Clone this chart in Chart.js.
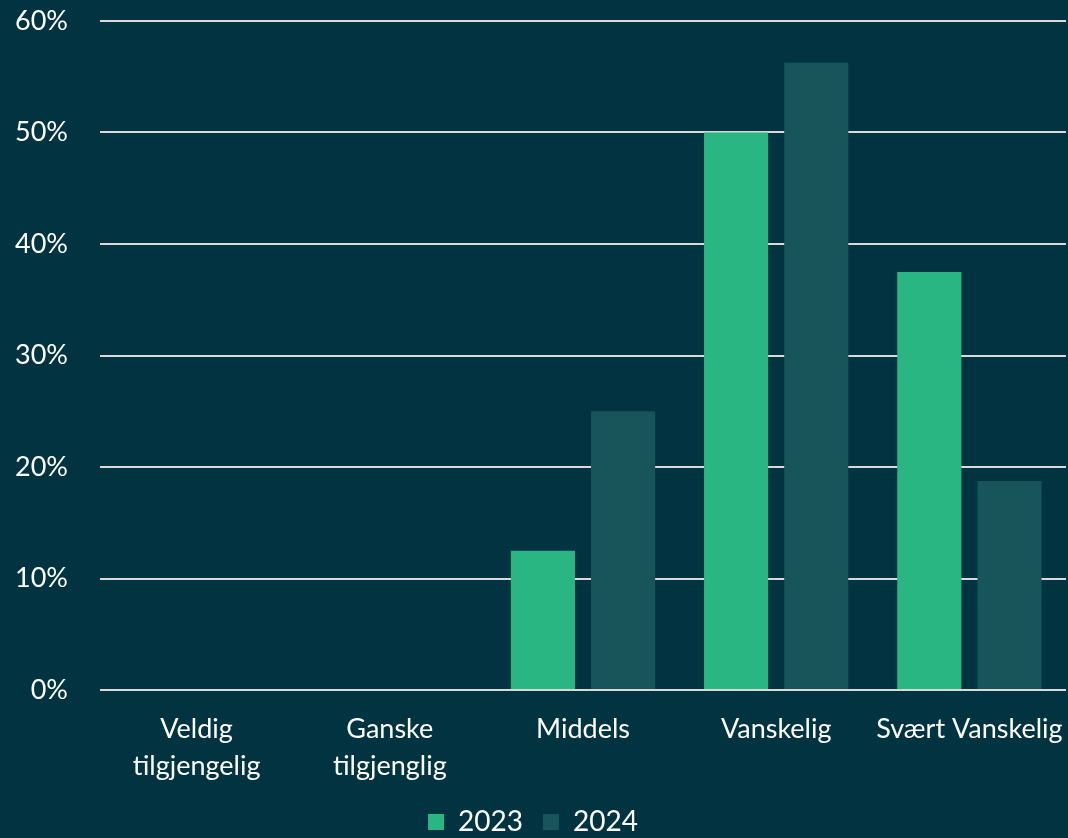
<!DOCTYPE html>
<html>
<head>
<meta charset="utf-8">
<script src="https://cdn.jsdelivr.net/npm/chart.js@4.4.0/dist/chart.umd.min.js"></script>
<style>
  body { margin: 0; background: #023340; }
  #wrap { width: 1068px; height: 838px; }
</style>
</head>
<body>
<div id="wrap"><canvas id="myChart" width="1068" height="838"></canvas></div>
<script>
const categories = [["Veldig", "tilgjengelig"], ["Ganske", "tilgjenglig"], "Middels", "Vanskelig", "Svært Vanskelig"];
const values2023 = [0, 0, 12.5, 50, 37.5];
const values2024 = [0, 0, 25, 56.25, 18.75];
const yTicks = [0, 10, 20, 30, 40, 50, 60];

const fontFamily = "Lato, 'Open Sans', sans-serif";
const ctx = document.getElementById("myChart").getContext("2d");

const myChart = new Chart(ctx, {
  type: "bar",
  data: {
    labels: categories,
    datasets: [
      { label: "2023", data: values2023, backgroundColor: "#2ab683" },
      { label: "2024", data: values2024, backgroundColor: "#17555b" },
    ],
  },
  options: {
    responsive: false,
    animation: false,
    categoryPercentage: 0.83,
    barPercentage: 0.8,
    layout: { padding: { top: 21, right: 2, bottom: -8, left: 0 } },
    plugins: {
      tooltip: { enabled: false },
      legend: {
        position: "bottom",
        labels: {
          color: "#ffffff",
          font: { family: fontFamily, size: 28, lineHeight: 1 },
          boxWidth: 16,
          boxHeight: 16,
          padding: 20,
        },
      },
    },
    scales: {
      x: {
        grid: { display: false },
        border: { display: false },
        afterFit: (scale) => {
          scale.height = 98;
          scale.paddingLeft = 0;
          scale.paddingRight = 0;
        },
        ticks: {
          color: "#ffffff",
          font: { family: fontFamily, size: 27, lineHeight: 1.4 },
          maxRotation: 0,
          padding: 12,
        },
      },
      y: {
        min: 0,
        max: 60,
        afterFit: (scale) => {
          scale.width = 100;
          scale.paddingTop = 0;
          scale.paddingBottom = 0;
        },
        afterBuildTicks: (scale) => { scale.ticks = yTicks.map((v) => ({ value: v })); },
        grid: { color: "#d9d9d9", lineWidth: 2, drawTicks: false },
        border: { display: false },
        ticks: {
          color: "#ffffff",
          font: { family: fontFamily, size: 27 },
          padding: 32,
          callback: (v) => v + "%",
        },
      },
    },
  },
});
</script>
</body>
</html>
